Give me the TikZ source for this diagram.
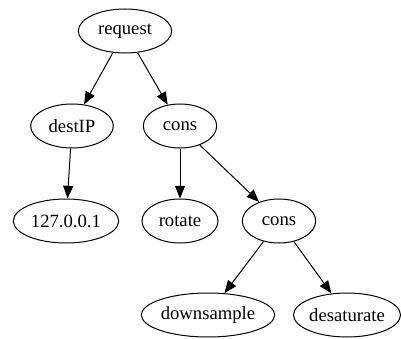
\documentclass[tikz,border=0pt]{standalone}
\usepackage{fontspec}
\setmainfont{Liberation Serif}
\usetikzlibrary{shapes,arrows.meta}
\tikzstyle{vertex}=[ellipse,draw,line width=0.75pt,minimum height=33pt,inner sep=0pt,font=\fontsize{14}{16}\selectfont]
\tikzstyle{edge} = [draw,line width=0.75pt,-{Triangle[length=9.5pt,width=7.5pt]}]

\begin{document}
\begin{tikzpicture}[x=0.75pt,y=-0.75pt]
 \useasboundingbox (0,0) rectangle (401,339);

 %top two rows
 \foreach \x/\y/\name/\label/\w in {125/31/request/request/70pt, 72/126/destIP/destIP/62pt, 180/126/cons/cons/55pt}
          \node[vertex, minimum width=\w] (\name) at (\x,\y) {\label};

 %third row
 \foreach \x/\y/\name/\label/\w in {66/221/ip/127.0.0.1/79pt, 180/221/rotate/rotate/57pt, 279/221/consb/cons/55pt}
          \node[vertex, minimum width=\w] (\name) at (\x,\y) {\label};

 %bottom row
 \foreach \x/\y/\name/\label/\w in {208/315/down/downsample/97pt, 347/315/desat/desaturate/79pt}
          \node[vertex, minimum width=\w] (\name) at (\x,\y) {\label};

 \foreach \source/ \dest in {request/destIP, request/cons, destIP/ip, cons/rotate, cons/consb}
         \path[edge] (\source) -- (\dest);

 \foreach \source/ \dest in {consb/down, consb/desat}
         \path[edge] (\source) -- (\dest);

\end{tikzpicture}
\end{document}
